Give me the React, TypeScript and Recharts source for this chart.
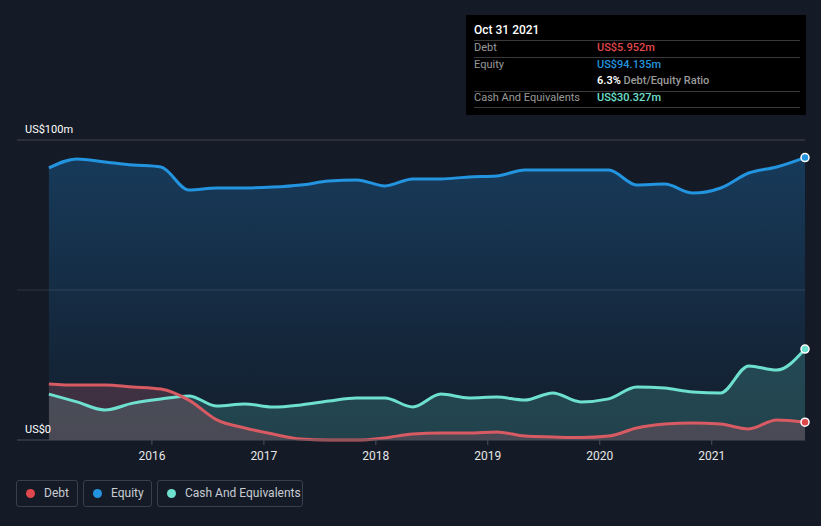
import React from "react";
import { ComposedChart, Area, Line, XAxis, YAxis, ReferenceLine } from "recharts";

// quarter ends, as fractional years
const dates = [
  2015.08, 2015.33, 2015.58, 2015.83,
  2016.08, 2016.33, 2016.58, 2016.83,
  2017.08, 2017.33, 2017.58, 2017.83,
  2018.08, 2018.33, 2018.58, 2018.83,
  2019.08, 2019.33, 2019.58, 2019.83,
  2020.08, 2020.33, 2020.58, 2020.83,
  2021.08, 2021.33, 2021.58, 2021.833,
];
const equity = [
  90.7, 93.7, 92.7, 91.7, 91, 83.3, 84, 84, 84.3, 85, 86.3, 86.7,
  84.7, 87, 87, 87.7, 88, 90, 90, 90, 90, 85, 85.3, 82.3, 84, 89, 91, 94.135,
];
const debt = [
  18.7, 18.3, 18.3, 17.7, 17, 13.3, 6.7, 4, 2, 0.3, 0, 0,
  0.7, 2, 2.3, 2.3, 2.7, 1.3, 1, 0.8, 1.3, 4, 5.3, 5.7, 5.3, 3.7, 6.7, 5.952,
];
const cash = [
  15.3, 12.7, 10, 12.3, 13.7, 14.7, 11.3, 12, 11, 11.7, 13, 14,
  14, 11, 15.3, 14, 14.3, 13.3, 15.7, 12.7, 13.7, 17.7, 17.3, 16, 15.7, 24.7, 23.3, 30.327,
];
const yearTicks = [2016, 2017, 2018, 2019, 2020, 2021];
const yTicks = [0, 50, 100];

const data = dates.map((t, i) => ({ t, equity: equity[i], debt: debt[i], cash: cash[i] }));

const BG = "#151b26";
const FONT = "Roboto, 'Open Sans', sans-serif";
const C_DEBT = "#e0474c";
const C_EQ = "#2394df";
const C_CASH = "#6ee0cf";

const lastIdx = data.length - 1;
const endDot = (color: string) => (props: any) => {
  if (props.index !== lastIdx) return <g key={props.index} />;
  return <circle key={props.index} cx={props.cx} cy={props.cy} r={4} fill={color} stroke="#fff" strokeWidth={1.5} />;
};

const YTick = (props: any) => {
  const { y, payload } = props;
  if (payload.value === 50) return <g />;
  return (
    <text x={25} y={y - 7} fill="#fff" fontSize={11} fontFamily={FONT}>
      {payload.value === 0 ? "US$0" : "US$100m"}
    </text>
  );
};

function TipRow({ label, value, color, top }: { label: string; value: React.ReactNode; color: string; top: number }) {
  return (
    <div style={{ position: "absolute", top, left: 8, fontSize: 11, lineHeight: "14px" }}>
      <span style={{ position: "absolute", left: 0, color: "#9a9a9a", whiteSpace: "nowrap" }}>{label}</span>
      <span style={{ position: "absolute", left: 123, color, fontWeight: 500, whiteSpace: "nowrap" }}>{value}</span>
    </div>
  );
}

const sep = (top: number) => (
  <div style={{ position: "absolute", top, left: 8, width: 326, height: 1, background: "#3a3a3a" }} />
);

function LegendItem({ left, width, color, label }: { left: number; width: number; color: string; label: string }) {
  return (
    <div
      style={{
        position: "absolute", top: 480, left, width, height: 27,
        border: "1px solid #3a404b", borderRadius: 3, boxSizing: "border-box",
        color: "#c8ccd2", fontSize: 12, fontFamily: FONT,
      }}
    >
      <span style={{ position: "absolute", left: 9, top: 8, width: 9, height: 9, borderRadius: 5, background: color }} />
      <span style={{ position: "absolute", left: 27, top: 5 }}>{label}</span>
    </div>
  );
}

export default function App() {
  return (
    <div style={{ position: "absolute", left: 0, top: 0, width: 821, height: 526, background: BG, fontFamily: FONT, overflow: "hidden" }}>
      <ComposedChart width={821} height={526} data={data} margin={{ top: 140, right: 16, bottom: 56, left: 16 }}>
        <defs>
          <linearGradient id="gEq" x1="0" y1="0" x2="0" y2="1">
            <stop offset="0%" stopColor="#173a5a" />
            <stop offset="100%" stopColor="#131d2b" />
          </linearGradient>
        </defs>
        <XAxis
          dataKey="t"
          type="number"
          domain={[2014.795, 2021.833]}
          ticks={yearTicks}
          tick={{ fill: "#e6e6e6", fontSize: 12, fontFamily: FONT }}
          tickFormatter={(v) => String(v)}
          axisLine={{ stroke: "#4a505a" }}
          tickLine={{ stroke: "#4a505a" }}
          tickSize={5}
          tickMargin={6}
        />
        <YAxis domain={[0, 100]} ticks={yTicks} width={1} axisLine={false} tickLine={false} tick={<YTick />} />
        <Area type="monotone" dataKey="equity" stroke="none" fill="url(#gEq)" fillOpacity={1}
          dot={false} activeDot={false} isAnimationActive={false} />
        <Area type="monotone" dataKey="cash" stroke="none" fill="#5cc8c0" fillOpacity={0.22}
          dot={false} activeDot={false} isAnimationActive={false} />
        <Area type="monotone" dataKey="debt" stroke="none" fill="#c06070" fillOpacity={0.25}
          dot={false} activeDot={false} isAnimationActive={false} />
        <ReferenceLine y={50} stroke="#ffffff" strokeOpacity={0.12} />
        <ReferenceLine y={100} stroke="#ffffff" strokeOpacity={0.18} />
        <Line type="monotone" dataKey="equity" stroke={C_EQ} strokeWidth={3}
          dot={endDot(C_EQ)} activeDot={false} isAnimationActive={false} />
        <Line type="monotone" dataKey="cash" stroke={C_CASH} strokeWidth={3}
          dot={endDot(C_CASH)} activeDot={false} isAnimationActive={false} />
        <Line type="monotone" dataKey="debt" stroke="#d85a62" strokeWidth={3}
          dot={endDot(C_DEBT)} activeDot={false} isAnimationActive={false} />
      </ComposedChart>

      <div style={{ position: "absolute", left: 466, top: 15, width: 340, height: 100, background: "#000", color: "#fff" }}>
        <div style={{ position: "absolute", left: 8, top: 8, fontSize: 12, fontWeight: 500 }}>Oct 31 2021</div>
        {sep(25)}
        <TipRow top={26} label="Debt" value="US$5.952m" color={C_DEBT} />
        {sep(42)}
        <TipRow top={43} label="Equity" value="US$94.135m" color={C_EQ} />
        <TipRow top={59} label="" value={<><span style={{ color: "#fff", fontWeight: 600 }}>6.3%</span><span style={{ color: "#9a9a9a" }}> Debt/Equity Ratio</span></>} color="#fff" />
        {sep(76)}
        <TipRow top={76} label="Cash And Equivalents" value="US$30.327m" color={C_CASH} />
        {sep(92)}
      </div>

      <LegendItem left={16} width={62} color={C_DEBT} label="Debt" />
      <LegendItem left={83} width={69} color={C_EQ} label="Equity" />
      <LegendItem left={157} width={146} color={C_CASH} label="Cash And Equivalents" />
    </div>
  );
}
